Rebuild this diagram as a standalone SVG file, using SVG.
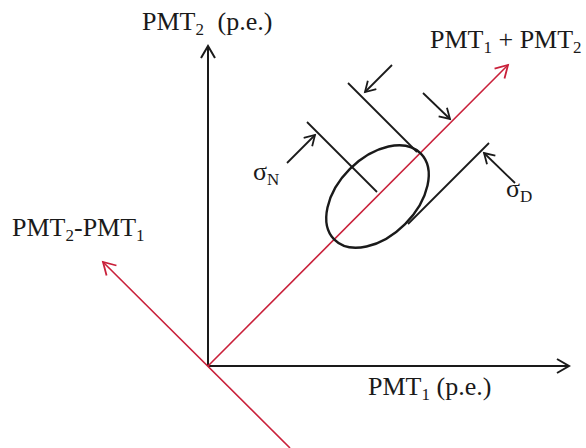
<svg xmlns="http://www.w3.org/2000/svg" width="586" height="448" viewBox="0 0 586 448">
<style>
text{font-family:"Liberation Serif","Times New Roman",serif;font-size:26px;fill:#1a1a1a}
.sub{font-size:17px}
.ax{stroke:#1a1a1a;stroke-width:2;fill:none}
.red{stroke:#c9203a;stroke-width:1.6;fill:none}
.thin{stroke:#1a1a1a;stroke-width:1.8;fill:none}
</style>
<defs>
<marker id="ah" markerUnits="userSpaceOnUse" markerWidth="20" markerHeight="20" refX="13" refY="8" orient="auto">
<path d="M1,1 L13,8 L1,15" fill="none" stroke="#1a1a1a" stroke-width="2"/>
</marker>
<marker id="ahs" markerUnits="userSpaceOnUse" markerWidth="20" markerHeight="20" refX="11" refY="7" orient="auto">
<path d="M1,1 L11,7 L1,13" fill="none" stroke="#1a1a1a" stroke-width="1.8"/>
</marker>
<marker id="ahr" markerUnits="userSpaceOnUse" markerWidth="20" markerHeight="20" refX="13" refY="8" orient="auto">
<path d="M1,1 L13,8 L1,15" fill="none" stroke="#c9203a" stroke-width="1.8"/>
</marker>
</defs>
<g id="connectors">
<line class="ax" x1="208" y1="366" x2="208" y2="46" marker-end="url(#ah)"/>
<line class="ax" x1="208" y1="366" x2="569" y2="366" marker-end="url(#ah)"/>
<line class="red" x1="208" y1="366" x2="508" y2="65" marker-end="url(#ahr)"/>
<line class="red" x1="290" y1="448" x2="103" y2="262" marker-end="url(#ahr)"/>
</g>
<g id="ellipse">
<ellipse cx="377.5" cy="196.5" rx="61" ry="39" transform="rotate(-45 377.5 196.5)" fill="none" stroke="#1a1a1a" stroke-width="2.4"/>
</g>
<g id="sigmaN">
<line class="thin" x1="348" y1="83" x2="417" y2="152"/>
<line class="thin" x1="307" y1="122" x2="377" y2="192"/>
<line class="thin" x1="392" y1="65" x2="365" y2="92" marker-end="url(#ahs)"/>
<line class="thin" x1="287" y1="163" x2="315" y2="135" marker-end="url(#ahs)"/>
</g>
<g id="sigmaD">
<line class="thin" x1="489" y1="143" x2="408" y2="224"/>
<line class="thin" x1="423" y1="93" x2="450" y2="119" marker-end="url(#ahs)"/>
<line class="thin" x1="515" y1="183" x2="484" y2="153" marker-end="url(#ahs)"/>
</g>
<g id="labels">
<text x="142" y="30">PMT<tspan class="sub" dy="5">2</tspan><tspan dy="-5" dx="7"> (p.e.)</tspan></text>
<text x="430" y="48">PMT<tspan class="sub" dy="5">1</tspan><tspan dy="-5"> + PMT</tspan><tspan class="sub" dy="5">2</tspan></text>
<text x="12" y="236">PMT<tspan class="sub" dy="5">2</tspan><tspan dy="-5">-PMT</tspan><tspan class="sub" dy="5">1</tspan></text>
<text x="368" y="395">PMT<tspan class="sub" dy="5">1</tspan><tspan dy="-5"> (p.e.)</tspan></text>
<text x="253" y="180">σ<tspan class="sub" dy="5">N</tspan></text>
<text x="506" y="197">σ<tspan class="sub" dy="5">D</tspan></text>
</g>
</svg>
